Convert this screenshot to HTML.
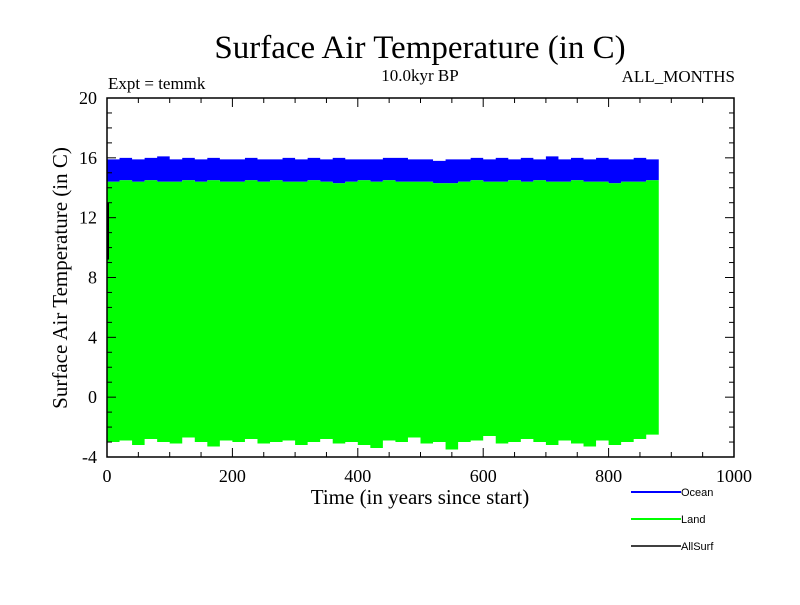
<!DOCTYPE html>
<html><head><meta charset="utf-8"><style>
body{margin:0;background:#fff}
svg text{font-family:"Liberation Serif",serif;fill:#000}
</style></head><body>
<svg id="chart" width="800" height="600" viewBox="0 0 800 600" xmlns="http://www.w3.org/2000/svg">
<rect width="800" height="600" fill="#fff"/>
<text x="420" y="58" font-size="33" text-anchor="middle">Surface Air Temperature (in C)</text>
<text x="108" y="89" font-size="17">Expt = temmk</text>
<text x="420" y="81" font-size="17" text-anchor="middle">10.0kyr BP</text>
<text x="735" y="82" font-size="17" text-anchor="end">ALL_MONTHS</text>
<g id="series"></g>
<g id="axes"></g>
<text x="420" y="504" font-size="21" text-anchor="middle">Time (in years since start)</text>
<text transform="translate(67,278) rotate(-90)" font-size="21" text-anchor="middle">Surface Air Temperature (in C)</text>
<g id="legend"></g>
</svg>
<script>
const binYears=20;
const oceanMax=[15.9,16.0,15.9,16.0,16.1,15.9,16.0,15.9,16.0,15.9,15.9,16.0,15.9,15.9,16.0,15.9,16.0,15.9,16.0,15.9,15.9,15.9,16.0,16.0,15.9,15.9,15.8,15.9,15.9,16.0,15.9,16.0,15.9,16.0,15.9,16.1,15.9,16.0,15.9,16.0,15.9,15.9,16.0,15.9];
const oceanMin=[14.4,14.5,14.4,14.5,14.4,14.4,14.5,14.4,14.5,14.4,14.4,14.5,14.4,14.5,14.4,14.4,14.5,14.4,14.3,14.4,14.5,14.4,14.5,14.4,14.4,14.4,14.3,14.3,14.4,14.5,14.4,14.4,14.5,14.4,14.5,14.4,14.4,14.5,14.4,14.4,14.3,14.4,14.4,14.5];
const landMin=[-3.0,-2.9,-3.2,-2.8,-3.0,-3.1,-2.7,-3.0,-3.3,-2.9,-3.0,-2.8,-3.1,-3.0,-2.9,-3.2,-3.0,-2.8,-3.1,-3.0,-3.2,-3.4,-2.9,-3.0,-2.7,-3.1,-3.0,-3.5,-3.0,-2.9,-2.6,-3.1,-3.0,-2.8,-3.0,-3.2,-2.9,-3.1,-3.3,-2.9,-3.2,-3.0,-2.8,-2.5];
const allSurfX=[0,0];
const allSurfY=[13.0,9.2];
const xTicks=[0,200,400,600,800,1000];
const yTicks=[-4,0,4,8,12,16,20];
const legendNames=["Ocean","Land","AllSurf"];
const legendColors=["#0000ff","#00ff00","#000000"];
const X0=107,X1=734,Y0=98,Y1=457;
const xs=v=>X0+(v-0)/(1000-0)*(X1-X0);
const ys=v=>Y1-(v-(-4))/(20-(-4))*(Y1-Y0);
const NS="http://www.w3.org/2000/svg";
function mk(t,a,p){const e=document.createElementNS(NS,t);for(const k in a)e.setAttribute(k,a[k]);p.appendChild(e);return e;}
const S=document.getElementById('series');
function band(top,bot,color,name){
  let up=[],dn=[];
  top.forEach((v,i)=>{up.push(xs(i*binYears)+','+ys(v));up.push(xs((i+1)*binYears)+','+ys(v));});
  for(let i=bot.length-1;i>=0;i--){dn.push(xs((i+1)*binYears)+','+ys(bot[i]));dn.push(xs(i*binYears)+','+ys(bot[i]));}
  const p=mk('polygon',{points:up.concat(dn).join(' '),fill:color},S);
  
  
}
band(oceanMax,oceanMin,'#0000ff','ocean-series');
band(oceanMin,landMin,'#00ff00','land-series');
const al=mk('line',{x1:xs(allSurfX[0])+1,y1:ys(allSurfY[0]),x2:xs(allSurfX[1])+1,y2:ys(allSurfY[1]),stroke:'#000','stroke-width':2},S);


const A=document.getElementById('axes');
const fr=mk('rect',{x:X0,y:Y0,width:X1-X0,height:Y1-Y0,fill:'none',stroke:'#000','stroke-width':1.5},A);


for(let v=0;v<=1000;v+=50){const x=xs(v),L=v%200===0?9:5;
  mk('line',{x1:x,y1:Y1,x2:x,y2:Y1-L,stroke:'#000'},A);mk('line',{x1:x,y1:Y0,x2:x,y2:Y0+L,stroke:'#000'},A);}
for(let v=-4;v<=20;v++){const y=ys(v),L=v%4===0?9:5;
  mk('line',{x1:X0,y1:y,x2:X0+L,y2:y,stroke:'#000'},A);mk('line',{x1:X1,y1:y,x2:X1-L,y2:y,stroke:'#000'},A);}
xTicks.forEach(v=>{const t=mk('text',{x:xs(v),y:Y1+25,'font-size':18,'text-anchor':'middle'},A);t.textContent=v;
  
  });
yTicks.forEach(v=>{const t=mk('text',{x:X0-10,y:ys(v)+6,'font-size':18,'text-anchor':'end'},A);t.textContent=v;
  
  });
const G=document.getElementById('legend');
legendNames.forEach((n,i)=>{const y=492+i*27;
  const g=mk('g',{},G);
  
  
  mk('line',{x1:631,y1:y,x2:681,y2:y,stroke:legendColors[i],'stroke-width':i===2?1.5:2},g);
  const t=mk('text',{x:681,y:y+4,'font-size':11,style:'font-family:"Liberation Sans",sans-serif'},g);t.textContent=n;});
</script>
</body></html>
